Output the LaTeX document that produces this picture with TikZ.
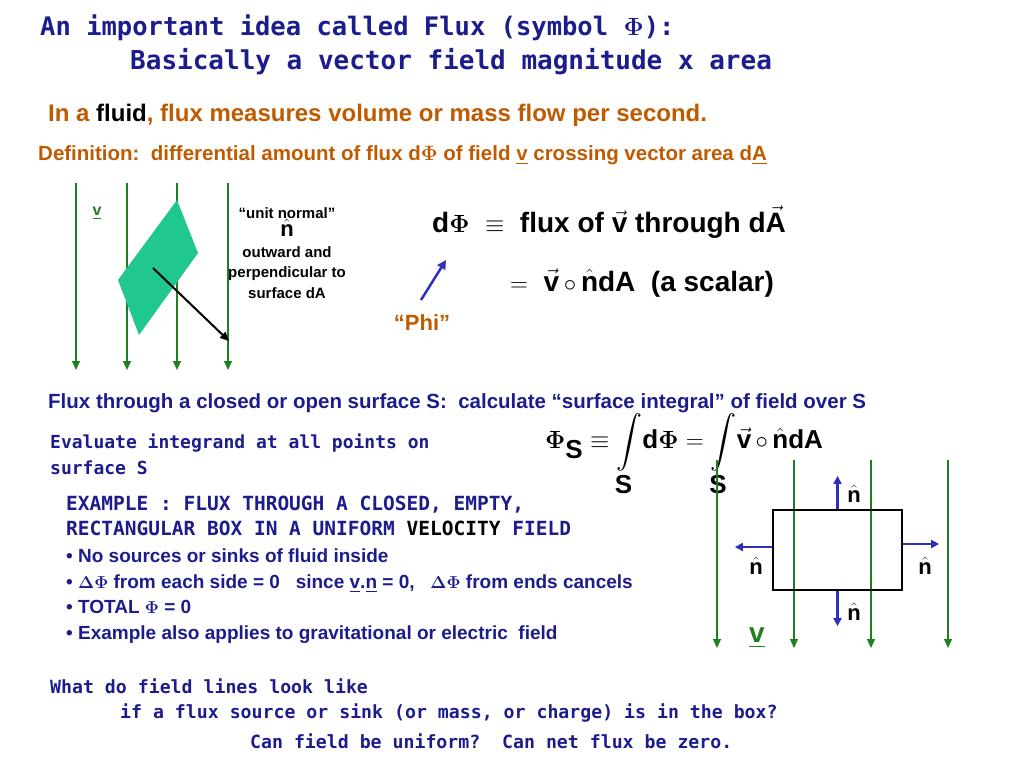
\documentclass[tikz,border=0pt]{standalone}
\usepackage[no-math]{fontspec}
\setmainfont{Liberation Sans}
\newfontfamily\mono{DejaVu Sans Mono}
\usepackage{amssymb}
\usetikzlibrary{arrows.meta}
\definecolor{tblue}{HTML}{1C1C8C}
\definecolor{orng}{HTML}{C05A00}
\definecolor{fgreen}{HTML}{1E8020}
\definecolor{teal}{HTML}{20C890}
\definecolor{abl}{HTML}{3030C0}
\newcommand{\vv}[1]{\ensuremath{\vec{\textbf{#1}}}}
\newcommand{\nh}{\ensuremath{\hat{\textbf{n}}}}
\begin{document}
\begin{tikzpicture}[x=1pt,y=-1pt,
  lbl/.style={inner sep=0pt,font=\bfseries},
  fl/.style={draw=fgreen,line width=1.3pt,-{Triangle[length=9pt,width=8pt]}},
  nar/.style={draw=abl,line width=2.5pt,-{Triangle[length=8pt,width=8pt]}}]
\useasboundingbox (0,0) rectangle (1024,768);
% title
\node[lbl,anchor=west,text=tblue,font=\mono\bfseries\fontsize{25.5}{28}\selectfont] (t1) at (40,28) {An important idea called Flux (symbol $\mathbf{\Phi}$):};
\node[lbl,anchor=west,text=tblue,font=\mono\bfseries\fontsize{26}{28}\selectfont] (t2) at (130,62) {Basically a vector field magnitude x area};
\node[lbl,anchor=west,text=orng,font=\bfseries\fontsize{24}{28}\selectfont] (fl) at (48,115) {In a \textcolor{black}{fluid}, flux measures volume or mass flow per second.};
\node[lbl,anchor=west,text=orng,font=\bfseries\fontsize{20.5}{24}\selectfont] (df) at (38,155) {Definition:\ \ differential amount of flux d$\mathbf\Phi$ of field \underline{v} crossing vector area d\underline{A}};
% left figure
\foreach \x/\n in {76/a,127/b,177/c,228/d}
  \draw[fl] (\x,183) -- (\x,370);
\node[lbl,text=fgreen,font=\bfseries\fontsize{16}{18}\selectfont] (vl) at (97,213) {\underline{v}};
\fill[teal] (177,200) -- (198,253) -- (139,335) -- (118,280) -- cycle;
\coordinate (ns) at (153,268);
\coordinate (ne) at (229,341);
\draw[line width=2pt,-{Triangle[length=9pt,width=8pt]}] (ns) -- (ne);
\node[lbl,align=center,font=\bfseries\fontsize{15}{20.5}\selectfont] (un) at (287,253) {``unit normal''\\[-2pt]{\fontsize{22}{20}\selectfont\nh}\\outward and\\perpendicular to\\surface dA};
% equations
\node[lbl,anchor=west,font=\bfseries\fontsize{28}{32}\selectfont] (e1) at (432,222) {d$\mathbf\Phi$\ \ $\equiv$\ \ flux of \vv{v} through d\vv{A}};
\node[lbl,anchor=west,font=\bfseries\fontsize{28}{32}\selectfont] (e2) at (510,283) {$=$\ \ \vv{v}\,$\circ$\,\nh dA\ \ (a scalar)};
\node[lbl,text=orng,font=\bfseries\fontsize{22}{26}\selectfont] (phi) at (422,323) {``Phi''};
\coordinate (pa) at (421,300);
\coordinate (pb) at (446,260);
\draw[line width=2.5pt,draw=abl,-{Triangle[length=9pt,width=9pt]}] (pa) -- (pb);
% middle
\node[lbl,anchor=west,text=tblue,font=\bfseries\fontsize{20.5}{24}\selectfont] (ft) at (48,403) {Flux through a closed or open surface S:\ \ calculate ``surface integral'' of field over S};
\node[lbl,anchor=north west,align=left,text=tblue,font=\mono\bfseries\fontsize{18}{26}\selectfont] (ev) at (50,434) {Evaluate integrand at all points on\\surface S};
\node[lbl,anchor=west,font=\bfseries\fontsize{26}{30}\selectfont] (ie) at (545,455) {$\mathbf\Phi_{\textbf{S}}\equiv\displaystyle\int\limits_{\textbf{S}}$d$\mathbf\Phi$ $=$ $\displaystyle\int\limits_{\textbf{S}}$\vv{v}\,$\circ$\,\nh dA};
\node[lbl,anchor=north west,align=left,text=tblue,font=\mono\bfseries\fontsize{19.5}{25}\selectfont] (ex) at (66,496) {EXAMPLE : FLUX THROUGH A CLOSED, EMPTY,\\RECTANGULAR BOX IN A UNIFORM \textcolor{black}{VELOCITY} FIELD};
\node[lbl,anchor=north west,align=left,text=tblue,font=\bfseries\fontsize{19}{25.5}\selectfont] (bl) at (66,549) {\textbullet\ No sources or sinks of fluid inside\\
\textbullet\ $\mathbf{\Delta\Phi}$ from each side = 0\ \ \ since \underline{v}.\underline{n} = 0,\ \ \ $\mathbf{\Delta\Phi}$ from ends cancels\\
\textbullet\ TOTAL\ $\mathbf\Phi$ = 0\\
\textbullet\ Example also applies to gravitational or electric\ \ field};
% box figure
\foreach \x in {717,794,871,948}
  \draw[fl] (\x,460) -- (\x,648);
\node[lbl,text=fgreen,font=\bfseries\fontsize{28}{30}\selectfont] (vb) at (757,638) {\underline{v}};
\node[draw,line width=2.2pt,minimum width=129pt,minimum height=80pt,inner sep=0pt] (box) at (837.5,550) {};
\draw[nar] (box.north) -- ++(0,-33);
\draw[nar] (box.south) -- ++(0,35);
\draw[nar] (box.west) ++(0,-3) -- ++(-37,0);
\draw[nar] (box.east) ++(0,-6) -- ++(36,0);
\node[lbl,font=\bfseries\fontsize{22}{22}\selectfont] (n1) at (854,494) {\nh};
\node[lbl,font=\bfseries\fontsize{22}{22}\selectfont] (n2) at (756,566) {\nh};
\node[lbl,font=\bfseries\fontsize{22}{22}\selectfont] (n3) at (925,566) {\nh};
\node[lbl,font=\bfseries\fontsize{22}{22}\selectfont] (n4) at (854,612) {\nh};
% bottom
\node[lbl,anchor=west,text=tblue,font=\mono\bfseries\fontsize{18.2}{21}\selectfont] (b1) at (50,686) {What do field lines look like};
\node[lbl,anchor=west,text=tblue,font=\mono\bfseries\fontsize{18.2}{21}\selectfont] (b2) at (120,713) {if a flux source or sink (or mass, or charge) is in the box?};
\node[lbl,anchor=west,text=tblue,font=\mono\bfseries\fontsize{18.2}{21}\selectfont] (b3) at (250,741) {Can field be uniform?\ \ Can net flux be zero.};
\end{tikzpicture}
\end{document}
